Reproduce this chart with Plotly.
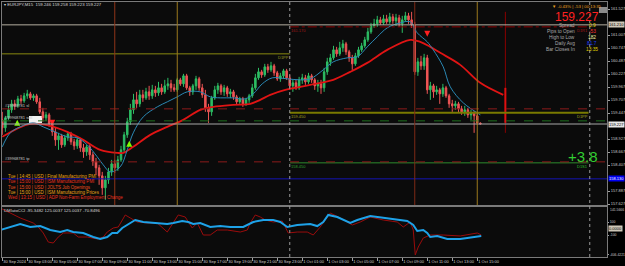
import numpy as np
import plotly.graph_objects as go
from plotly.subplots import make_subplots

# ---------------- data ----------------
symbol = "EURJPY,M15"
first_bar_hour = 1.0      # hours since 30 Sep 2024 00:00
bar_step_hour = 0.25      # M15 bars

opens = [159.31, 159.15, 159.35, 159.51, 159.63, 159.59, 159.73, 159.69, 159.79, 159.83,
         159.75, 159.79, 159.67, 159.47, 159.35, 159.41, 159.23, 159.07, 158.91, 158.99,
         158.81, 158.95, 159.03, 158.87, 158.79, 158.91, 158.75, 158.67, 158.77, 158.61,
         158.47, 158.35, 158.19, 157.95, 158.11, 158.27, 158.43, 158.35, 158.51, 158.71,
         159.01, 159.27, 159.51, 159.71, 159.63, 159.81, 159.75, 159.87, 159.79, 159.91,
         159.85, 159.95, 159.87, 159.99, 160.03, 159.95, 159.91, 160.11, 160.03, 160.19,
         159.95, 159.87, 159.99, 160.13, 159.95, 159.81, 159.55, 159.47, 159.75, 159.91,
         159.99, 159.87, 159.95, 159.83, 159.87, 159.77, 159.67, 159.73, 159.63, 159.71,
         159.79, 159.95, 160.15, 160.27, 160.21, 160.37, 160.31, 160.39, 160.25, 160.13,
         160.19, 160.29, 160.15, 159.99, 160.05, 159.95, 160.11, 160.15, 160.07, 160.19,
         160.11, 159.99, 160.03, 159.95, 160.27, 160.47, 160.55, 160.71, 160.63, 160.75,
         160.83, 160.67, 160.55, 160.43, 160.59, 160.71, 160.79, 160.91, 161.07, 161.19,
         161.23, 161.31, 161.25, 161.33, 161.27, 161.37, 161.29, 161.35, 161.23, 161.31,
         161.39, 161.31, 161.21, 160.27, 160.47, 160.39, 160.55, 159.91, 159.99, 159.87,
         159.91, 159.83, 159.95, 159.79, 159.63, 159.59, 159.63, 159.53, 159.47, 159.51,
         159.41, 159.45, 159.39, 159.246]
highs = [159.47, 159.39, 159.59, 159.71, 159.71, 159.79, 159.81, 159.85, 159.91, 159.87,
         159.83, 159.83, 159.75, 159.55, 159.47, 159.45, 159.27, 159.15, 159.05, 159.03,
         159.01, 159.07, 159.07, 158.93, 158.97, 158.95, 158.83, 158.81, 158.81, 158.67,
         158.55, 158.41, 158.27, 158.19, 158.35, 158.51, 158.51, 158.59, 158.79, 159.07,
         159.35, 159.63, 159.83, 159.87, 159.91, 159.91, 159.95, 159.99, 160.01, 159.99,
         160.07, 160.03, 160.11, 160.15, 160.11, 160.03, 160.15, 160.15, 160.23, 160.23,
         159.99, 160.03, 160.19, 160.17, 160.03, 159.91, 159.63, 159.79, 159.99, 160.05,
         160.03, 160.01, 159.99, 159.93, 159.91, 159.81, 159.77, 159.77, 159.75, 159.83,
         160.03, 160.23, 160.35, 160.31, 160.43, 160.43, 160.47, 160.43, 160.29, 160.25,
         160.33, 160.33, 160.21, 160.11, 160.11, 160.17, 160.23, 160.21, 160.25, 160.23,
         160.15, 160.11, 160.11, 160.35, 160.55, 160.63, 160.79, 160.77, 160.87, 160.91,
         160.87, 160.71, 160.61, 160.65, 160.77, 160.85, 160.97, 161.15, 161.25, 161.33,
         161.39, 161.37, 161.41, 161.41, 161.45, 161.43, 161.43, 161.41, 161.39, 161.47,
         161.45, 161.47, 161.27, 160.55, 160.59, 160.63, 160.61, 160.07, 160.03, 159.99,
         159.95, 160.03, 159.99, 159.83, 159.71, 159.69, 159.67, 159.59, 159.59, 159.55,
         159.51, 159.49, 159.47, 159.258]
lows = [159.01, 159.07, 159.31, 159.45, 159.51, 159.55, 159.63, 159.65, 159.73, 159.71,
        159.69, 159.63, 159.43, 159.27, 159.29, 159.17, 158.99, 158.79, 158.71, 158.75,
        158.77, 158.89, 158.81, 158.71, 158.73, 158.67, 158.55, 158.59, 158.51, 158.39,
        158.21, 158.01, 157.81, 157.71, 158.03, 158.19, 158.25, 158.29, 158.47, 158.65,
        158.95, 159.21, 159.43, 159.55, 159.57, 159.67, 159.71, 159.71, 159.73, 159.77,
        159.79, 159.81, 159.83, 159.91, 159.87, 159.87, 159.87, 159.99, 159.97, 159.91,
        159.79, 159.81, 159.91, 159.89, 159.75, 159.47, 159.25, 159.39, 159.71, 159.83,
        159.81, 159.79, 159.77, 159.75, 159.71, 159.61, 159.63, 159.57, 159.59, 159.65,
        159.75, 159.91, 160.11, 160.15, 160.17, 160.25, 160.27, 160.19, 160.09, 160.07,
        160.13, 160.11, 159.91, 159.87, 159.91, 159.91, 160.03, 160.01, 160.03, 160.05,
        159.91, 159.87, 159.83, 159.87, 160.21, 160.39, 160.51, 160.57, 160.59, 160.67,
        160.61, 160.47, 160.31, 160.39, 160.55, 160.67, 160.75, 160.87, 161.03, 161.15,
        161.17, 161.21, 161.21, 161.23, 161.23, 161.23, 161.19, 161.17, 161.05, 161.27,
        161.23, 161.15, 160.21, 160.19, 160.31, 160.31, 159.83, 159.71, 159.75, 159.81,
        159.63, 159.77, 159.75, 159.55, 159.47, 159.51, 159.45, 159.41, 159.39, 159.35,
        159.31, 159.05, 159.21, 159.223]
closes = [159.15, 159.35, 159.51, 159.63, 159.59, 159.73, 159.69, 159.79, 159.83, 159.75,
          159.79, 159.67, 159.47, 159.35, 159.41, 159.23, 159.07, 158.91, 158.99, 158.81,
          158.95, 159.03, 158.87, 158.79, 158.91, 158.75, 158.67, 158.77, 158.61, 158.47,
          158.35, 158.19, 157.95, 158.11, 158.27, 158.43, 158.35, 158.51, 158.71, 159.01,
          159.27, 159.51, 159.71, 159.63, 159.81, 159.75, 159.87, 159.79, 159.91, 159.85,
          159.95, 159.87, 159.99, 160.03, 159.95, 159.91, 160.11, 160.03, 160.19, 159.95,
          159.87, 159.99, 160.13, 159.95, 159.81, 159.55, 159.47, 159.75, 159.91, 159.99,
          159.87, 159.95, 159.83, 159.87, 159.77, 159.67, 159.73, 159.63, 159.71, 159.79,
          159.95, 160.15, 160.27, 160.21, 160.37, 160.31, 160.39, 160.25, 160.13, 160.19,
          160.29, 160.15, 159.99, 160.05, 159.95, 160.11, 160.15, 160.07, 160.19, 160.11,
          159.99, 160.03, 159.95, 160.27, 160.47, 160.55, 160.71, 160.63, 160.75, 160.83,
          160.67, 160.55, 160.43, 160.59, 160.71, 160.79, 160.91, 161.07, 161.19, 161.23,
          161.31, 161.25, 161.33, 161.27, 161.37, 161.29, 161.35, 161.23, 161.31, 161.39,
          161.31, 161.21, 160.27, 160.47, 160.39, 160.55, 159.91, 159.99, 159.87, 159.91,
          159.83, 159.95, 159.79, 159.63, 159.59, 159.63, 159.53, 159.47, 159.51, 159.41,
          159.45, 159.39, 159.25, 159.227]

# moving averages (sample time in hours since 30 Sep 00:00, price)
ma_slow_t = [1.0, 3.24, 4.84, 6.2, 7.48, 8.84, 10.2, 10.68, 11.48, 12.84,
             14.2, 15.48, 16.84, 17.88, 19.48, 20.84, 21.64, 22.44, 23.64, 24.84,
             26.44, 27.48, 28.84, 30.2, 31.8, 33.64, 34.44, 35.24, 36.04, 37.64,
             39.24, 41.08]
ma_slow_v = [158.97, 159.23, 159.19, 159.07, 158.91, 158.71, 158.65, 158.65, 158.77, 159.01,
             159.17, 159.31, 159.51, 159.57, 159.61, 159.63, 159.71, 159.81, 159.91, 159.97,
             160.05, 160.11, 160.27, 160.45, 160.71, 160.91, 160.87, 160.77, 160.65, 160.41,
             160.05, 159.81]
ma_fast_t = [1.0, 1.64, 2.44, 3.48, 4.28, 5.4, 6.2, 7.0, 7.8, 8.6,
             9.08, 9.64, 10.44, 11.0, 11.48, 12.28, 13.4, 14.2, 15.0, 15.8,
             16.84, 17.64, 18.44, 19.48, 20.44, 21.08, 21.8, 22.6, 23.8, 24.84,
             25.64, 26.68, 27.48, 28.6, 29.4, 30.2, 31.0, 31.8, 32.84, 33.64,
             34.2, 35.0, 35.48, 36.28, 36.84, 37.88, 39.0, 39.25]
ma_fast_v = [158.77, 159.05, 159.17, 159.25, 159.17, 159.05, 158.97, 158.95, 158.81, 158.57,
             158.41, 158.27, 158.37, 158.71, 159.05, 159.37, 159.57, 159.67, 159.77, 159.87,
             159.87, 159.77, 159.75, 159.75, 159.73, 159.83, 160.03, 160.15, 160.13, 160.11,
             160.13, 160.31, 160.47, 160.55, 160.57, 160.77, 160.97, 161.15, 161.25, 161.27,
             161.05, 160.87, 160.71, 160.37, 159.97, 159.65, 159.45, 159.41]

# DMIatoCCI sub-window
cci_red_t = [0.84, 1.64, 2.44, 3.48, 3.88, 4.28, 4.68, 5.08, 5.48, 5.88,
             6.68, 7.08, 7.8, 8.6, 9.08, 9.4, 9.88, 10.28, 10.6, 10.84,
             11.24, 11.8, 12.6, 13.4, 14.2, 14.68, 15.08, 15.64, 16.2, 16.6,
             17.08, 17.64, 18.2, 19.0, 20.04, 20.6, 20.84, 21.24, 21.64, 22.04,
             22.68, 23.4, 23.88, 24.6, 25.4, 25.88, 26.44, 27.0, 27.24, 28.04,
             29.0, 29.64, 30.44, 31.48, 32.6, 33.08, 33.64, 33.88, 34.04, 34.28,
             34.68, 35.24, 36.28, 37.64, 38.44, 39.0, 39.32]
cci_red_v = [315, 238, 162, 85, 23, -69, -208, -223, -131, -69,
             -69, -131, -131, -161, -131, -54, 8, 23, 131, 208,
             162, 100, 85, 85, -54, 85, 208, 177, 8, 85,
             -100, -100, -23, -23, -54, -23, 85, 208, 177, 131,
             100, 115, -69, -54, -54, -100, 23, 177, 238, 162,
             54, 100, 177, 131, 100, 23, 100, -23, -406, -285,
             -146, -100, -100, -115, -85, -69, -100]
cci_blue_t = [0.84, 1.64, 2.44, 3.24, 4.04, 4.84, 5.64, 6.2, 6.68, 7.48,
              8.28, 8.84, 9.4, 9.8, 10.2, 10.6, 11.0, 11.64, 12.28, 13.4,
              14.2, 14.68, 15.4, 15.88, 16.28, 16.84, 17.64, 18.44, 19.24, 20.28,
              21.08, 21.88, 22.68, 23.24, 23.8, 24.6, 25.64, 26.2, 26.68, 27.08,
              27.8, 28.84, 29.4, 30.44, 31.48, 32.6, 33.4, 33.88, 34.2, 34.68,
              35.0, 35.24, 35.8, 36.6, 37.64, 38.2, 39.0, 39.32]
cci_blue_v = [-23, 23, 69, 23, 38, -23, -54, -23, -54, -69,
              -131, -161, -131, -69, -69, 8, 54, 131, 100, 85,
              69, 85, 115, 100, 69, 85, 23, 38, 23, 23,
              100, 131, 131, 100, 23, 54, 69, 38, 100, 208,
              177, 85, 131, 192, 162, 131, 115, 54, -38, -23,
              -69, -131, -115, -161, -161, -146, -131, -115]
cci_levels = [100, 0, -100]
cci_title = "DMIatoCCI -95.3482 125.0037 125.0037 -70.8496"
cci_max_label, cci_min_label = "141.5666", -406.4221

time_tick_hours = [1, 3, 5, 7, 9, 11, 13, 15, 17, 19, 21, 23, 25, 27, 29, 31, 33, 35, 37, 39]
time_tick_labels = ["30 Sep 2024", "30 Sep 03:00", "30 Sep 05:00", "30 Sep 07:00", "30 Sep 09:00",
                    "30 Sep 11:00", "30 Sep 13:00", "30 Sep 15:00", "30 Sep 17:00", "30 Sep 19:00",
                    "30 Sep 21:00", "30 Sep 23:00", "1 Oct 01:00", "1 Oct 03:00", "1 Oct 05:00",
                    "1 Oct 07:00", "1 Oct 09:00", "1 Oct 11:00", "1 Oct 13:00", "1 Oct 15:00"]

# horizontal levels
gray_level = 161.21
trade_levels = [159.53, 159.29, 158.47]
trade_colors = ["#8B1A1A", "#1E6E1E", "#8B1A1A"]
trade_labels = ["#39968781 sl", "#39968781 sell", "#39968781 tp"]
blue_level = 158.13
prev_pp = 160.63
day_r1, day_pp, day_s1 = 161.17, 159.45, 158.45
day_start_hour, pivot_end_hour = 24.0, 47.9

# vertical lines
day_separators = [24.0, 48.0]
news_lines = [10.0, 15.0, 34.0, 39.0]
news_colors = ["#8E3418", "#9C7A1E", "#7E2A16", "#9C7A1E"]
signal_t = 41.25
signal_thin = [161.47, 159.05]
signal_thick = [159.95, 159.25]

buy_arrow_t, buy_arrow_p = [2.2, 11.16], [159.31, 158.89]
sell_arrow_t, sell_arrow_p = [5.0, 35.0], [159.19, 160.97]

events = [("Tue | 14:45 | USD | Final Manufacturing PMI", "#E8A317"),
          ("Tue | 15:00 | USD | ISM Manufacturing PMI", "#E8321E"),
          ("Tue | 15:00 | USD | JOLTS Job Openings", "#E8501E"),
          ("Tue | 15:00 | USD | ISM Manufacturing Prices", "#E8A317"),
          ("Wed | 13:15 | USD | ADP Non-Farm Employment Change", "#E8321E")]

panel_labels = ["Spread", "Pips to Open", "High to Low", "Daily Avg", "Bar Closes In"]
panel_values = ["0.9", "-53", "182", "81.7", "13:35"]
panel_colors = ["#E0D000", "#FF3030", "#F0F0A0", "#2040FF", "#E0D000"]

# ---------------- figure ----------------
FONT = "Liberation Sans"
BULL, BEAR = "#2DBE64", "#EE5555"
W, H = 625, 266
L, R, T, B = 2, 18, 2, 9
PW, PH = W - L - R, H - T - B
Y_RANGE = [157.607, 161.667]
PX_PER_PRICE = (205 - 2) / (Y_RANGE[1] - Y_RANGE[0])


def xp(px):
    return (px - L) / PW


def yp(py):
    return (H - B - py) / PH


main_dom = [yp(205), 1.0]
sub_dom = [0.0, yp(207)]

fig = make_subplots(rows=2, cols=1, shared_xaxes=True, vertical_spacing=0.01)

bar_t = first_bar_hour + bar_step_hour * np.arange(len(closes))
fig.add_trace(go.Candlestick(
    x=bar_t, open=opens, high=highs, low=lows, close=closes,
    increasing=dict(line=dict(color=BULL, width=1), fillcolor=BULL),
    decreasing=dict(line=dict(color=BEAR, width=1), fillcolor=BEAR),
    whiskerwidth=0, hoverinfo="skip"), row=1, col=1)

fig.add_trace(go.Scatter(x=ma_slow_t, y=ma_slow_v, mode="lines",
                         line=dict(color="#E01414", width=1.8, shape="spline")), row=1, col=1)
fig.add_trace(go.Scatter(x=ma_fast_t, y=ma_fast_v, mode="lines",
                         line=dict(color="#2A88B4", width=1, shape="spline")), row=1, col=1)

fig.add_trace(go.Scatter(x=[signal_t, signal_t], y=signal_thin, mode="lines",
                         line=dict(color="#8B0000", width=1)), row=1, col=1)
fig.add_trace(go.Scatter(x=[signal_t, signal_t], y=signal_thick, mode="lines",
                         line=dict(color="#E01010", width=2)), row=1, col=1)

fig.add_trace(go.Scatter(x=buy_arrow_t, y=buy_arrow_p, mode="markers",
                         marker=dict(symbol="arrow-up", size=6, color="#7CFC00")), row=1, col=1)
fig.add_trace(go.Scatter(x=sell_arrow_t, y=sell_arrow_p, mode="markers",
                         marker=dict(symbol="arrow-down", size=6, color="#FF2020")), row=1, col=1)

# pivot segments
for lvl, col, wd, dash in [(day_r1, "#8B0000", 1, "dashdot"), (day_pp, "#7A7A00", 2, "solid"),
                           (day_s1, "#2E8B2E", 1, "solid")]:
    fig.add_trace(go.Scatter(x=[day_start_hour, pivot_end_hour], y=[lvl, lvl], mode="lines",
                             line=dict(color=col, width=wd, dash=dash)), row=1, col=1)
fig.add_trace(go.Scatter(x=[bar_t[0] - 1, day_start_hour], y=[prev_pp, prev_pp], mode="lines",
                         line=dict(color="#8A8A10", width=1)), row=1, col=1)

# sub window
for lvl in cci_levels:
    fig.add_hline(y=lvl, line=dict(color="#C8C0B0" if lvl == 0 else "#707070",
                                   width=1.5 if lvl == 0 else 1,
                                   dash="solid" if lvl == 0 else "dot"), row=2, col=1)
fig.add_trace(go.Scatter(x=cci_red_t, y=cci_red_v, mode="lines",
                         line=dict(color="#9A0C0C", width=1)), row=2, col=1)
fig.add_trace(go.Scatter(x=cci_blue_t, y=cci_blue_v, mode="lines",
                         line=dict(color="#1EA2E8", width=2)), row=2, col=1)

shapes = []
for lvl, col, dash in [(gray_level, "#B4AEA0", "solid"), (blue_level, "#1414B4", "solid"),
                       (closes[-1], "#A8A8A8", "solid")] + \
        [(v, c, "dash") for v, c in zip(trade_levels, trade_colors)]:
    shapes.append(dict(type="line", xref="paper", yref="y", x0=0, x1=1, y0=lvl, y1=lvl,
                       line=dict(color=col, width=1, dash=dash)))
for t, c in zip(news_lines, news_colors):
    shapes.append(dict(type="line", xref="x", yref="paper", x0=t, x1=t, y0=main_dom[0], y1=1,
                       line=dict(color=c, width=1)))
for t in day_separators:
    shapes.append(dict(type="line", xref="x", yref="paper", x0=t, x1=t, y0=0, y1=1,
                       line=dict(color="#9A9A9A", width=1, dash="dot")))
# white label box and panel button
shapes.append(dict(type="rect", xref="paper", yref="paper", x0=xp(29), x1=xp(42), y0=yp(123), y1=yp(116),
                   fillcolor="#F2F2F2", line=dict(width=0), layer="below"))
shapes.append(dict(type="rect", xref="paper", yref="paper", x0=xp(599), x1=xp(607), y0=yp(13), y1=yp(7),
                   fillcolor="#8C8C8C", line=dict(width=0)))

fig.update_layout(
    width=W, height=H, margin=dict(l=L, r=R, t=T, b=B, autoexpand=False),
    paper_bgcolor="#000000", plot_bgcolor="#0B0B0B", showlegend=False, hovermode=False,
    font=dict(family=FONT, size=4, color="#C8C8C8"), shapes=shapes,
)
axis_common = dict(showgrid=False, zeroline=False, showline=True, mirror=True,
                   linecolor="#7A7A7A", linewidth=1, automargin=False)
fig.update_xaxes(range=[0.98, 49.38], rangeslider_visible=False, **axis_common)
fig.update_xaxes(showticklabels=False, ticks="", row=1, col=1)
fig.update_xaxes(tickvals=time_tick_hours, ticktext=time_tick_labels, ticks="outside", ticklen=3,
                 tickangle=0, tickcolor="#A0A0A0", ticklabelposition="outside right",
                 tickfont=dict(size=4, color="#D0D0D0", family=FONT), row=2, col=1)

# price ticks every 13 px; skip the ones hidden under highlighted tags
tag_levels = [gray_level, closes[-1], blue_level]
price_ticks = [round(v, 3) for v in np.arange(157.627, Y_RANGE[1], 0.26)
               if min(abs(v - t) for t in tag_levels) * PX_PER_PRICE > 6]
fig.update_yaxes(domain=main_dom, range=Y_RANGE, side="right", tickvals=price_ticks,
                 tickformat=".3f", ticks="outside", ticklen=2, tickcolor="#A0A0A0", tickangle=0,
                 tickfont=dict(size=4, color="#C8C8C8", family=FONT), row=1, col=1, **axis_common)
fig.update_yaxes(domain=sub_dom, range=[-438.3, 330.8], side="right",
                 tickvals=[100, -100, cci_min_label], ticktext=["100", "-100", f"{cci_min_label:.4f}"],
                 ticks="outside", ticklen=1, tickcolor="#A0A0A0", tickangle=0,
                 tickfont=dict(size=3.4, color="#C8C8C8", family=FONT), row=2, col=1, **axis_common)


def ann(text, px, py, size=4.5, color="#C8C8C8", xanchor="left", yanchor="middle", **kw):
    fig.add_annotation(text=text, xref="paper", yref="paper", x=xp(px), y=yp(py),
                       xanchor=xanchor, yanchor=yanchor, showarrow=False,
                       font=dict(size=size, color=color, family=FONT), borderpad=0, **kw)


def axis_tag(value, text, bg, fg, yref="y"):
    fig.add_annotation(text=text, xref="paper", yref=yref, x=1, y=value, xanchor="left",
                       yanchor="middle", xshift=1, showarrow=False, bgcolor=bg, borderpad=0,
                       font=dict(size=4, color=fg, family=FONT))


def level_tag(text, t, value, color, xanchor):
    fig.add_annotation(text=text, xref="x", yref="y", x=t, y=value, xanchor=xanchor,
                       yanchor="top", showarrow=False, borderpad=0,
                       font=dict(size=4, color=color, family=FONT))


title = f"▾ {symbol}  {opens[-1]:.3f} {highs[-1]:.3f} {lows[-1]:.3f} {closes[-1]:.3f}"
ann(title, 3, 4.5, size=4.3, color="#D8D8D8")
ann(cci_title, 3, 210, size=4.3, color="#D8D8D8")
ann(cci_max_label, 608.5, 210, size=3.4, color="#C8C8C8")

# info panel
ann("▼ -0.43% | -53 | 00:13:35", 577, 6, size=4.3, color="#E8A020", xanchor="center")
ann(f"{closes[-1]:.3f}", 577, 16.5, size=12, color="#FF2020", xanchor="center")
for i, (lab, val, col) in enumerate(zip(panel_labels, panel_values, panel_colors)):
    py = 25 + 6.2 * i
    ann(lab, 576, py, size=4.8, color="#A8A8A8", xanchor="right")
    ann(val, 592, py, size=4.8, color=col, xanchor="center")

ann("+3.8", 583, 156, size=15, color="#32CD32", xanchor="center")

for i, (txt, col) in enumerate(events):
    ann(txt, 7, 176 + 5.5 * i, size=4.5, color=col)

# axis highlight tags
axis_tag(gray_level, f"{gray_level:.3f}", "#CFC8B8", "#000000")
axis_tag(closes[-1], f"{closes[-1]:.3f}", "#E8E8E8", "#000000")
axis_tag(blue_level, f"{blue_level:.3f}", "#0000F0", "#FFFFFF")
axis_tag(0, "0.0000", "#CFC8B8", "#000000", yref="y2")

# level labels
level_tag("D1PP", day_start_hour, prev_pp, "#9A9A20", "right")
level_tag(f"{day_r1:.3f}", day_start_hour, day_r1, "#A01818", "left")
level_tag("D1R1", pivot_end_hour, day_r1, "#A01818", "right")
level_tag(f"{day_pp:.3f}", day_start_hour, day_pp, "#A0A020", "left")
level_tag("D1PP", pivot_end_hour, day_pp, "#A0A020", "right")
level_tag(f"{day_s1:.3f}", day_start_hour, day_s1, "#2EA02E", "left")
level_tag("D1S1", pivot_end_hour, day_s1, "#2EC02E", "right")
for v, lab in zip(trade_levels, trade_labels):
    fig.add_annotation(text=lab, xref="paper", yref="y", x=xp(4), y=v, xanchor="left",
                       yanchor="bottom", showarrow=False, borderpad=0,
                       font=dict(size=4, color="#C8C8C8", family=FONT))

fig.write_html("out.html")
